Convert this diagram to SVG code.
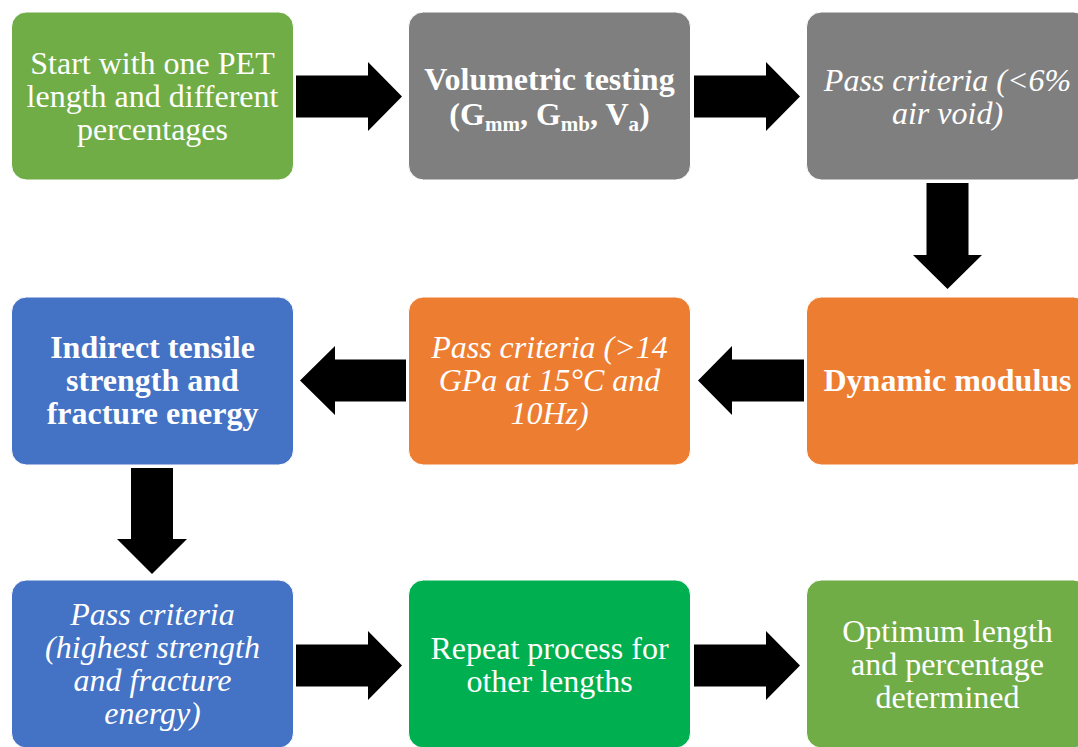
<svg xmlns="http://www.w3.org/2000/svg" width="1078" height="747" viewBox="0 0 1078 747">
<style>
.box{stroke:#ffffff;stroke-width:1}
.g1{fill:#70AD47}
.gr{fill:#7F7F7F}
.bl{fill:#4472C4}
.or{fill:#ED7D31}
.g2{fill:#00B050}
.t{font-family:"Liberation Serif","Times New Roman",serif;font-size:32px;fill:#ffffff;text-anchor:middle}
.b{font-weight:bold}
.i{font-style:italic}
.sub{font-size:21px}
.arr{fill:#000000}
</style>
<rect width="1078" height="747" fill="#ffffff"/>
<g id="n1">
<rect class="box g1" x="11.5" y="12" width="282" height="168" rx="15"/>
<text class="t" x="152.5"><tspan x="152.5" y="74">Start with one PET</tspan><tspan x="152.5" y="107">length and different</tspan><tspan x="152.5" y="140">percentages</tspan></text>
</g>
<g id="n2">
<rect class="box gr" x="408.5" y="12" width="282" height="168" rx="15"/>
<text class="t b" x="549.5" y="90">Volumetric testing</text>
<text class="t b" x="549.5" y="125">(G<tspan class="sub" dy="6">mm</tspan><tspan dy="-6">, G</tspan><tspan class="sub" dy="6">mb</tspan><tspan dy="-6">, V</tspan><tspan class="sub" dy="6">a</tspan><tspan dy="-6">)</tspan></text>
</g>
<g id="n3">
<rect class="box gr" x="806.5" y="12" width="282" height="168" rx="15"/>
<text class="t i"><tspan x="947.5" y="91">Pass criteria (&lt;6%</tspan><tspan x="947.5" y="124">air void)</tspan></text>
</g>
<g id="n4">
<rect class="box bl" x="11.5" y="297" width="282" height="168" rx="15"/>
<text class="t b"><tspan x="152.5" y="358">Indirect tensile</tspan><tspan x="152.5" y="391">strength and</tspan><tspan x="152.5" y="424">fracture energy</tspan></text>
</g>
<g id="n5">
<rect class="box or" x="408.5" y="297" width="282" height="168" rx="15"/>
<text class="t i"><tspan x="549.5" y="358">Pass criteria (&gt;14</tspan><tspan x="549.5" y="391">GPa at 15°C and</tspan><tspan x="549.5" y="424">10Hz)</tspan></text>
</g>
<g id="n6">
<rect class="box or" x="806.5" y="297" width="282" height="168" rx="15"/>
<text class="t b" x="947.5" y="391">Dynamic modulus</text>
</g>
<g id="n7">
<rect class="box bl" x="11.5" y="580" width="282" height="168" rx="15"/>
<text class="t i"><tspan x="152.5" y="625">Pass criteria</tspan><tspan x="152.5" y="658">(highest strength</tspan><tspan x="152.5" y="691">and fracture</tspan><tspan x="152.5" y="724">energy)</tspan></text>
</g>
<g id="n8">
<rect class="box g2" x="408.5" y="580" width="282" height="168" rx="15"/>
<text class="t"><tspan x="549.5" y="659">Repeat process for</tspan><tspan x="549.5" y="692">other lengths</tspan></text>
</g>
<g id="n9">
<rect class="box g1" x="806.5" y="580" width="282" height="168" rx="15"/>
<text class="t"><tspan x="947.5" y="642">Optimum length</tspan><tspan x="947.5" y="675">and percentage</tspan><tspan x="947.5" y="708">determined</tspan></text>
</g>
<g id="connectors">
<polygon class="arr" points="296,75.5 368,75.5 368,62 402,96.5 368,131 368,117.5 296,117.5"/>
<polygon class="arr" points="694,75.5 766,75.5 766,62 800,96.5 766,131 766,117.5 694,117.5"/>
<polygon class="arr" points="926.5,183 968.5,183 968.5,255 982,255 947.5,289 913,255 926.5,255"/>
<polygon class="arr" points="804,359.5 732,359.5 732,346 698,380.5 732,415 732,401.5 804,401.5"/>
<polygon class="arr" points="406,359.5 335,359.5 335,346 300,380.5 335,415 335,401.5 406,401.5"/>
<polygon class="arr" points="131,468 173,468 173,539 187,539 152,574 117,539 131,539"/>
<polygon class="arr" points="296,644.5 368,644.5 368,631 402,665.5 368,700 368,686.5 296,686.5"/>
<polygon class="arr" points="694,644.5 766,644.5 766,631 800,665.5 766,700 766,686.5 694,686.5"/>
</g>
</svg>
